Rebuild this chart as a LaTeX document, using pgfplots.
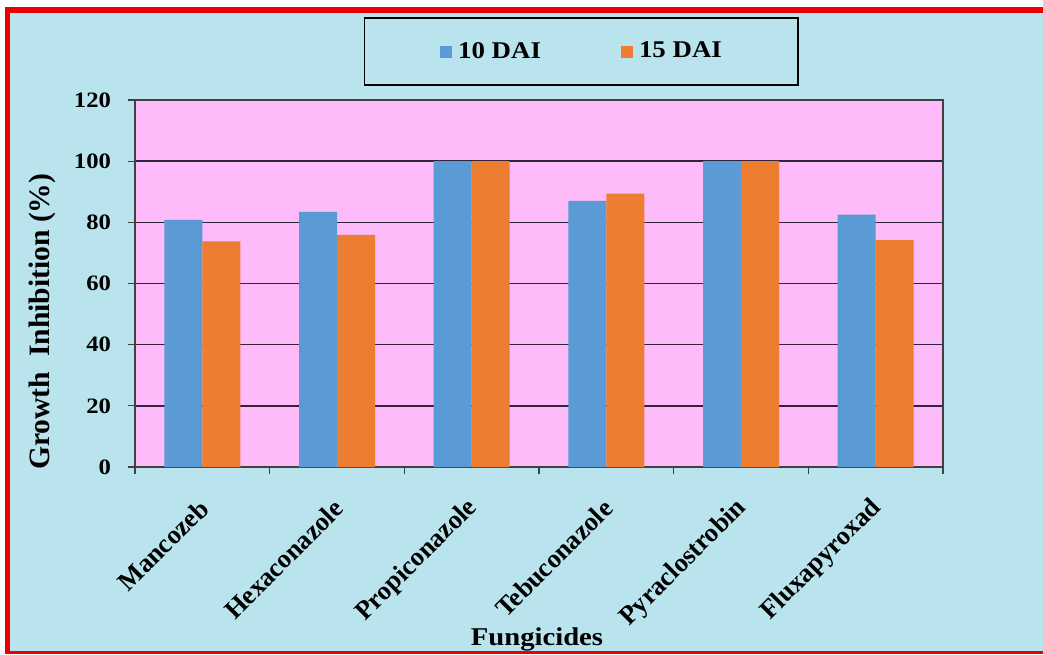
\documentclass[border=0pt]{standalone}
\usepackage{pgfplots}
\pgfplotsset{compat=1.18}
\usepackage{fontspec}
\setmainfont{Liberation Serif}[FakeStretch=1.12]
\newfontfamily\plainserif{Liberation Serif}

\definecolor{bgblue}{RGB}{185,228,238}
\definecolor{plotpink}{RGB}{253,187,249}
\definecolor{barblue}{RGB}{91,155,213}
\definecolor{barorange}{RGB}{237,125,49}
\definecolor{gridc}{RGB}{50,35,60}
\definecolor{framered}{RGB}{235,0,0}

\pgfplotsset{
  sqlegend/.style={legend image code/.code={\fill[##1] (0pt,-3pt) rectangle (6pt,3pt);}},
}

\begin{document}
\begin{tikzpicture}
% page: 1043 x 654 px, 1 px = 0.5 pt
\useasboundingbox (0,0) rectangle (521.5pt,327pt);
\fill[bgblue] (5pt,1.5pt) rectangle (521.5pt,320.5pt);
% red frame on left, top and bottom (the right edge is cut off)
\fill[framered] (2.5pt,0pt) rectangle (5pt,323.5pt);
\fill[framered] (2.5pt,320.5pt) rectangle (521.5pt,323.5pt);
\fill[framered] (2.5pt,0pt) rectangle (521.5pt,1.5pt);

\begin{axis}[
    at={(67.5pt,93.5pt)}, anchor=south west,
    scale only axis, width=404pt, height=183.5pt,
    ybar=0pt, bar width=19pt,
    xmin=-0.5, xmax=5.5, ymin=0, ymax=120,
    xtick={0,...,5},
    xticklabels={Mancozeb,Hexaconazole,Propiconazole,Tebuconazole,Pyraclostrobin,Fluxapyroxad},
    minor xtick={-0.5,0.5,...,5.5},
    ytick={0,20,...,120},
    ymajorgrids=true,
    major grid style={draw=gridc, line width=0.75pt},
    tick align=outside, tick pos=left,
    major tick length=3.5pt, minor tick length=3.5pt,
    tick style={draw=gray!50!black, line width=0.6pt},
    major x tick style={draw=none},
    axis line style={draw=gray!50!black, line width=0.6pt},
    axis background/.style={fill=plotpink},
    /pgf/number format/assume math mode=true,
    yticklabel style={font=\fontsize{11}{11}\selectfont\bfseries, xshift=-5pt},
    xticklabel style={font=\plainserif\fontsize{13.2}{13.2}\selectfont\bfseries,
      inner sep=0pt, xshift=1pt, yshift=-15pt, rotate=45, anchor=east},
    ylabel={Growth\ \ Inhibition (\%)},
    ylabel style={at={(axis description cs:-0.1151,0.396)}, anchor=center,
      font=\plainserif\fontsize{14.8}{14.8}\selectfont\bfseries},
    xlabel={Fungicides},
    xlabel style={at={(axis description cs:0.4975,-0.487)}, anchor=base,
      font=\fontsize{12.8}{12.8}\selectfont\bfseries},
    legend columns=2,
    legend style={at={(axis description cs:0.5520,1.132)}, anchor=center,
      draw=black, fill=none, line width=0.6pt,
      inner xsep=38pt, inner ysep=12pt,
      nodes={inner sep=0pt},
      font=\fontsize{12}{12}\selectfont\bfseries,
      /tikz/every odd column/.append style={column sep=3pt},
      /tikz/every even column/.append style={column sep=40pt}},
]
\addplot[fill=barblue, draw=none, sqlegend] coordinates {
  (0,80.8) (1,83.4) (2,100) (3,87.0) (4,100) (5,82.5)};
\addlegendentry{10 DAI}
\addplot[fill=barorange, draw=none, sqlegend] coordinates {
  (0,73.8) (1,75.9) (2,100) (3,89.4) (4,100) (5,74.2)};
\addlegendentry{15 DAI}
\end{axis}
\end{tikzpicture}
\end{document}
